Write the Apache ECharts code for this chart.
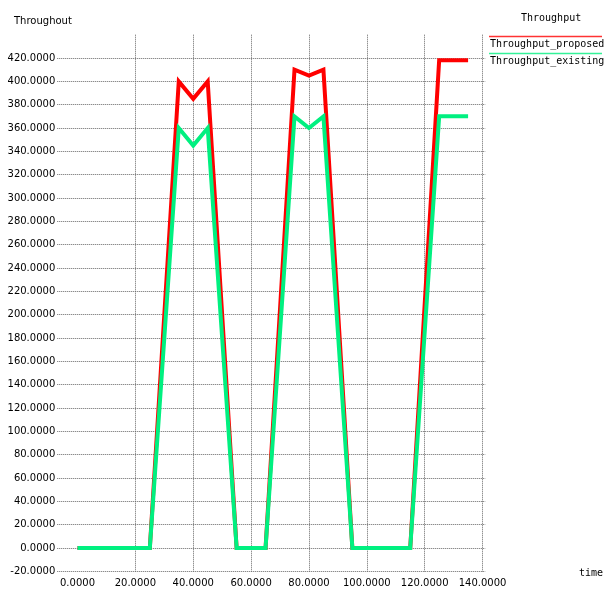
<!DOCTYPE html>
<html>
<head>
<meta charset="utf-8">
<script src="https://cdn.jsdelivr.net/npm/echarts@6/dist/echarts.min.js"></script>
<style>
html,body{margin:0;padding:0;background:#fff;}
#chart{width:608px;height:590px;}
</style>
</head>
<body>
<div id="chart"></div>
<script>
// ---- data ----
const chartTitle = 'Throughput';
const yAxisName = 'Throughout';
const xAxisName = 'time';
const seriesNames = ['Throughput_proposed', 'Throughput_existing'];
const seriesColors = ['#ff0000', '#00f080'];
const timeValues = [0, 25, 35, 40, 45, 55, 65, 75, 80, 85, 95, 115, 125, 135];
const proposedValues = [0, 0, 400, 385, 400, 0, 0, 410, 405, 410, 0, 0, 418, 418];
const existingValues = [0, 0, 360, 345, 360, 0, 0, 370, 360, 370, 0, 0, 370, 370];
const xTickValues = [0, 20, 40, 60, 80, 100, 120, 140];
const xGridValues = [20, 40, 60, 80, 100, 120, 140];
const yTickValues = [-20, 0, 20, 40, 60, 80, 100, 120, 140, 160, 180, 200, 220, 240, 260, 280, 300, 320, 340, 360, 380, 400, 420];

const allSeries = [proposedValues, existingValues];

const chart = echarts.init(document.getElementById('chart'), null, {renderer: 'canvas'});

const gridLine = {show: true, lineStyle: {color: '#666', width: 1, type: [1, 1]}};

const legendGraphics = [];
seriesNames.forEach((name, i) => {
  legendGraphics.push({
    type: 'line',
    shape: {x1: 489, y1: 36.5 + 17 * i, x2: 602, y2: 36.5 + 17 * i},
    style: {stroke: seriesColors[i], lineWidth: 1.5, opacity: 0.8}
  });
  legendGraphics.push({
    type: 'text',
    x: 490, y: 44 + 17 * i,
    style: {text: name, font: '10px "DejaVu Sans Mono"', fill: '#000', verticalAlign: 'middle', textAlign: 'left'}
  });
});

chart.setOption({
  animation: false,
  backgroundColor: '#fff',
  title: {
    text: chartTitle,
    left: 516, top: 8,
    textStyle: {fontFamily: 'DejaVu Sans Mono', fontSize: 10, fontWeight: 'normal', color: '#000'}
  },
  grid: {
    left: 57.25, top: 34.7, width: 428.2, height: 536.7,
    containLabel: false, outerBoundsMode: 'none'
  },
  xAxis: {
    type: 'value', min: -7, max: 141,
    axisLine: {show: false},
    axisTick: {show: false, customValues: xGridValues},
    axisLabel: {
      customValues: xTickValues, margin: 7,
      formatter: v => v.toFixed(4),
      fontFamily: 'DejaVu Sans', fontSize: 10, color: '#000'
    },
    splitLine: gridLine
  },
  yAxis: {
    type: 'value', min: -20, max: 440, interval: 20,
    axisLine: {show: false},
    axisTick: {show: false, customValues: yTickValues},
    axisLabel: {
      customValues: yTickValues, margin: 2,
      formatter: v => v.toFixed(4),
      fontFamily: 'DejaVu Sans', fontSize: 10, color: '#000'
    },
    splitLine: gridLine
  },
  graphic: [
    {type: 'text', x: 14, y: 21, style: {text: yAxisName, font: '10px "DejaVu Sans"', fill: '#000', verticalAlign: 'middle'}},
    {type: 'text', x: 579, y: 573, style: {text: xAxisName, font: '10px "DejaVu Sans Mono"', fill: '#000', verticalAlign: 'middle'}}
  ].concat(legendGraphics),
  series: seriesNames.map((name, i) => ({
    name: name,
    type: 'line',
    data: timeValues.map((t, j) => [t, allSeries[i][j]]),
    showSymbol: false,
    symbol: 'none',
    lineStyle: {color: seriesColors[i], width: 4, join: 'miter'},
    itemStyle: {color: seriesColors[i]},
    z: 2 + i
  }))
});
</script>
</body>
</html>
